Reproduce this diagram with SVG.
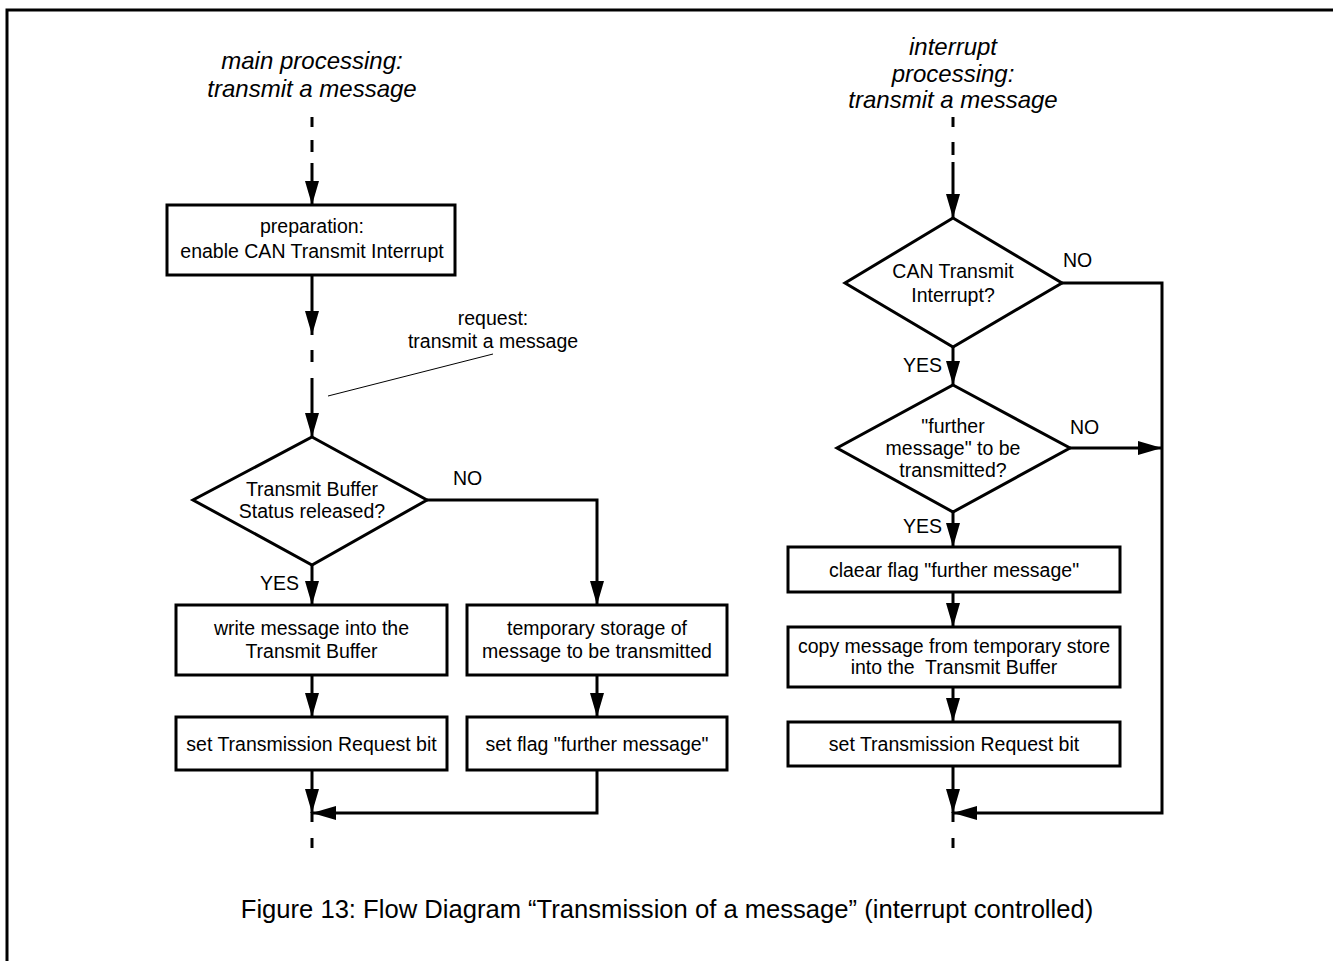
<svg xmlns="http://www.w3.org/2000/svg" width="1333" height="961" viewBox="0 0 1333 961">
  <style>
    text { font-family: "Liberation Sans", Arial, sans-serif; font-size: 19.5px; fill: #000; }
    .mid { text-anchor: middle; }
    .end { text-anchor: end; }
    .title { font-size: 24px; font-style: italic; }
    .caption { font-size: 25.6px; }
    .box { fill: #fff; stroke: #000; stroke-width: 3; }
    .flow { fill: none; stroke: #000; stroke-width: 3; }
    .flow-arrow { fill: none; stroke: #000; stroke-width: 3; marker-end: url(#arrow); }
    .thin { fill: none; stroke: #000; stroke-width: 1; }
  </style>
  <defs>
    <marker id="arrow" markerUnits="userSpaceOnUse" viewBox="0 -7 24 14" refX="24" refY="0" markerWidth="24" markerHeight="14" orient="auto">
      <path d="M0,-7 L24,0 L0,7 z" fill="#000"/>
    </marker>
    <clipPath id="titleClip">
      <rect x="800" y="20" width="320" height="93"/>
    </clipPath>
  </defs>

  <rect width="1333" height="961" fill="#fff"/>

  <!-- page frame -->
  <path d="M7,961 V10 H1333" class="flow"/>

  <!-- column headings -->
  <g id="title-main">
    <text class="title mid" x="312" y="69">main processing:</text>
    <text class="title mid" x="312" y="97">transmit a message</text>
  </g>
  <g id="title-interrupt" clip-path="url(#titleClip)">
    <text class="title mid" x="953" y="55">interrupt</text>
    <text class="title mid" x="953" y="82">processing:</text>
    <text class="title mid" x="953" y="108">transmit a message</text>
  </g>

  <!-- main processing -->
  <g id="prep">
    <rect class="box" x="167" y="205" width="288" height="70"/>
    <text class="mid" x="312" y="233">preparation:</text>
    <text class="mid" x="312" y="258">enable CAN Transmit Interrupt</text>
  </g>
  <g id="request-note">
    <line class="thin" x1="328" y1="396" x2="493" y2="354"/>
    <text class="mid" x="493" y="325">request:</text>
    <text class="mid" x="493" y="348">transmit a message</text>
  </g>
  <g id="buffer-status">
    <polygon class="box" points="312,437 427,500 312,565 193,500"/>
    <text class="mid" x="312" y="496">Transmit Buffer</text>
    <text class="mid" x="312" y="518">Status released?</text>
  </g>
  <g id="write-buffer">
    <rect class="box" x="176" y="605" width="271" height="70"/>
    <text class="mid" x="311.5" y="635">write message into the</text>
    <text class="mid" x="311.5" y="658">Transmit Buffer</text>
  </g>
  <g id="temp-store">
    <rect class="box" x="467" y="605" width="260" height="70"/>
    <text class="mid" x="597" y="635">temporary storage of</text>
    <text class="mid" x="597" y="658">message to be transmitted</text>
  </g>
  <g id="set-request-main">
    <rect class="box" x="176" y="717" width="271" height="53"/>
    <text class="mid" x="311.5" y="751">set Transmission Request bit</text>
  </g>
  <g id="set-flag">
    <rect class="box" x="467" y="717" width="260" height="53"/>
    <text class="mid" x="597" y="751">set flag "further message"</text>
  </g>

  <!-- interrupt processing -->
  <g id="can-interrupt">
    <polygon class="box" points="953,218 1062,283 953,347 845,283"/>
    <text class="mid" x="953" y="278">CAN Transmit</text>
    <text class="mid" x="953" y="302">Interrupt?</text>
  </g>
  <g id="further-message">
    <polygon class="box" points="953,385 1070,448 953,512 837,448"/>
    <text class="mid" x="953" y="433">"further</text>
    <text class="mid" x="953" y="455">message" to be</text>
    <text class="mid" x="953" y="477">transmitted?</text>
  </g>
  <g id="clear-flag">
    <rect class="box" x="788" y="547" width="332" height="45"/>
    <text class="mid" x="954" y="577">claear flag "further message"</text>
  </g>
  <g id="copy-message">
    <rect class="box" x="788" y="627" width="332" height="60"/>
    <text class="mid" x="954" y="653">copy message from temporary store</text>
    <text class="mid" x="954" y="674" xml:space="preserve">into the  Transmit Buffer</text>
  </g>
  <g id="set-request-int">
    <rect class="box" x="788" y="722" width="332" height="44"/>
    <text class="mid" x="954" y="751">set Transmission Request bit</text>
  </g>

  <!-- connectors -->
  <g id="connectors">
    <!-- main processing -->
    <line class="flow" x1="312" y1="117" x2="312" y2="127"/>
    <line class="flow" x1="312" y1="140" x2="312" y2="152"/>
    <path class="flow-arrow" d="M312,163 V205"/>
    <path class="flow-arrow" d="M312,275 V335"/>
    <line class="flow" x1="312" y1="350" x2="312" y2="362"/>
    <path class="flow-arrow" d="M312,378 V437"/>
    <path class="flow-arrow" d="M312,565 V605"/>
    <path class="flow-arrow" d="M427,500 H597 V605"/>
    <path class="flow-arrow" d="M312,675 V717"/>
    <path class="flow-arrow" d="M597,675 V717"/>
    <path class="flow-arrow" d="M312,770 V813"/>
    <line class="flow" x1="312" y1="812" x2="312" y2="822"/>
    <path class="flow-arrow" d="M597,770 V813 H312"/>
    <line class="flow" x1="312" y1="838" x2="312" y2="848"/>

    <!-- interrupt processing -->
    <line class="flow" x1="953" y1="117" x2="953" y2="127"/>
    <line class="flow" x1="953" y1="142" x2="953" y2="155"/>
    <path class="flow-arrow" d="M953,162 V218"/>
    <path class="flow-arrow" d="M953,347 V385"/>
    <path class="flow-arrow" d="M1062,283 H1162 V813 H953"/>
    <path class="flow-arrow" d="M1070,448 H1162"/>
    <path class="flow-arrow" d="M953,512 V547"/>
    <path class="flow-arrow" d="M953,592 V627"/>
    <path class="flow-arrow" d="M953,687 V722"/>
    <path class="flow-arrow" d="M953,766 V813"/>
    <line class="flow" x1="953" y1="812" x2="953" y2="822"/>
    <line class="flow" x1="953" y1="838" x2="953" y2="848"/>
  </g>

  <!-- branch labels -->
  <g id="branch-labels">
    <text x="453" y="485">NO</text>
    <text class="end" x="299" y="590">YES</text>
    <text x="1063" y="267">NO</text>
    <text class="end" x="942" y="372">YES</text>
    <text x="1070" y="434">NO</text>
    <text class="end" x="942" y="533">YES</text>
  </g>

  <g id="caption">
    <text class="caption mid" x="667" y="918">Figure 13: Flow Diagram “Transmission of a message” (interrupt controlled)</text>
  </g>
</svg>
